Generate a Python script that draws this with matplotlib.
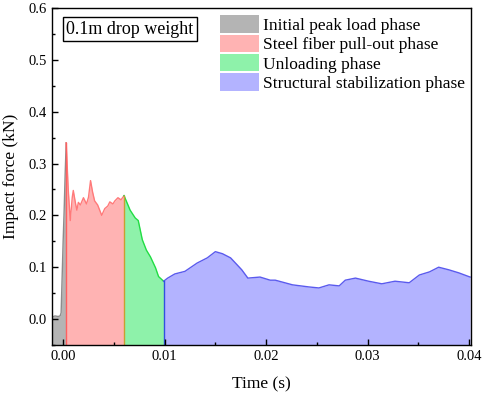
import matplotlib
matplotlib.use("Agg")
import matplotlib.pyplot as plt
from matplotlib.patches import Patch
from matplotlib.ticker import MultipleLocator

plt.rcParams['font.family'] = ['Liberation Serif', 'DejaVu Serif']

# Phase data (time in s, force in kN)
t_gray = [-0.0011, -0.0008, -0.0005, -0.0003, -0.0002, -0.0001, 0.0000, 0.0001, 0.0002, 0.0003]
f_gray = [0.004, 0.006, 0.005, 0.006, 0.012, 0.08, 0.15, 0.21, 0.28, 0.34]

t_red = [0.0003, 0.0005, 0.0007, 0.0009, 0.0010, 0.0012, 0.00135, 0.0015, 0.0017, 0.0020,
         0.0023, 0.0025, 0.0027, 0.0029, 0.0031, 0.0034, 0.0036, 0.0038, 0.0041, 0.0044,
         0.0046, 0.0049, 0.0051, 0.0054, 0.0057, 0.0060]
f_red = [0.34, 0.25, 0.19, 0.235, 0.248, 0.225, 0.21, 0.225, 0.22, 0.234,
         0.222, 0.235, 0.267, 0.245, 0.228, 0.22, 0.21, 0.2, 0.213, 0.218,
         0.226, 0.222, 0.228, 0.234, 0.23, 0.238]

t_green = [0.0060, 0.0066, 0.0071, 0.0074, 0.0078, 0.0082, 0.0086, 0.0091, 0.0094, 0.0099]
f_green = [0.238, 0.21, 0.195, 0.19, 0.153, 0.133, 0.12, 0.099, 0.082, 0.073]

t_blue = [0.0099, 0.0103, 0.0110, 0.0120, 0.0132, 0.0142, 0.0150, 0.0157, 0.0165, 0.0176,
          0.0182, 0.0194, 0.0204, 0.0209, 0.0226, 0.0242, 0.0252, 0.0262, 0.0272, 0.0278,
          0.0288, 0.0301, 0.0314, 0.0327, 0.0341, 0.0351, 0.0361, 0.0370, 0.0380, 0.0390, 0.0401]
f_blue = [0.073, 0.079, 0.087, 0.092, 0.108, 0.118, 0.13, 0.126, 0.118, 0.095,
          0.079, 0.081, 0.075, 0.075, 0.066, 0.062, 0.06, 0.066, 0.064, 0.075,
          0.079, 0.073, 0.068, 0.073, 0.07, 0.085, 0.091, 0.1, 0.095, 0.089, 0.081]

labels = ["Initial peak load phase", "Steel fiber pull-out phase",
          "Unloading phase", "Structural stabilization phase"]
fills = ['#b4b4b4', '#ffb3b3', '#8ef2aa', '#b3b3ff']
edges = ['#8c8c8c', '#ff7a7a', '#22dd44', '#5a5aee']

fig = plt.figure(figsize=(4.84, 3.97), dpi=100)
ax = fig.add_axes([0.1074, 0.131, 0.866, 0.849])

ymin = -0.05
series = [(t_gray, f_gray), (t_red, f_red), (t_green, f_green), (t_blue, f_blue)]
for (t, f), fc, ec in zip(series, fills, edges):
    ax.fill_between(t, ymin, f, color=fc, linewidth=0, zorder=1)
    ax.plot(t, f, color=ec, linewidth=1.0, zorder=2)
# phase boundary lines
ax.plot([t_red[0], t_red[0]], [ymin, f_red[0]], color='#ff6060', lw=1.0, zorder=2)
ax.plot([t_green[0], t_green[0]], [ymin, f_green[0]], color='#c8a030', lw=1.0, zorder=2)
ax.plot([t_blue[0], t_blue[0]], [ymin, f_blue[0]], color='#3050e0', lw=1.0, zorder=2)

ax.set_xlim(-0.0011, 0.0402)
ax.set_ylim(ymin, 0.6)
ax.xaxis.set_minor_locator(MultipleLocator(0.005))
ax.yaxis.set_minor_locator(MultipleLocator(0.05))
ax.set_xticks([0.0, 0.01, 0.02, 0.03, 0.04])
ax.set_xticklabels(['0.00', '0.01', '0.02', '0.03', '0.04'])
ax.set_yticks([0.0, 0.1, 0.2, 0.3, 0.4, 0.5, 0.6])
ax.set_yticklabels(['0.0', '0.1', '0.2', '0.3', '0.4', '0.5', '0.6'])
ax.tick_params(which='both', direction='in', top=False, right=False, labelsize=10.5, zorder=5)
ax.tick_params(which='major', length=4, width=1)
ax.tick_params(which='minor', length=2.5, width=1)
for s in ax.spines.values():
    s.set_linewidth(1.0)
    s.set_zorder(6)
ax.set_axisbelow(False)

ax.set_xlabel('Time (s)', fontsize=12.5, labelpad=10)
ax.set_ylabel('Impact force (kN)', fontsize=12.5, labelpad=7)

handles = [Patch(facecolor=fc, edgecolor='none') for fc in fills]
ax.legend(handles, labels, loc='upper left', bbox_to_anchor=(0.40, 0.978),
          frameon=False, fontsize=12.5, borderpad=0, borderaxespad=0,
          handlelength=2.25, handleheight=1.15, handletextpad=0.25, labelspacing=0.05)

ax.text(0.034, 0.962, '0.1m drop weight', transform=ax.transAxes, fontsize=13,
        ha='left', va='top',
        bbox=dict(boxstyle='square,pad=0.2', facecolor='white', edgecolor='black', lw=1.0))

fig.savefig('out.png', dpi=100)
